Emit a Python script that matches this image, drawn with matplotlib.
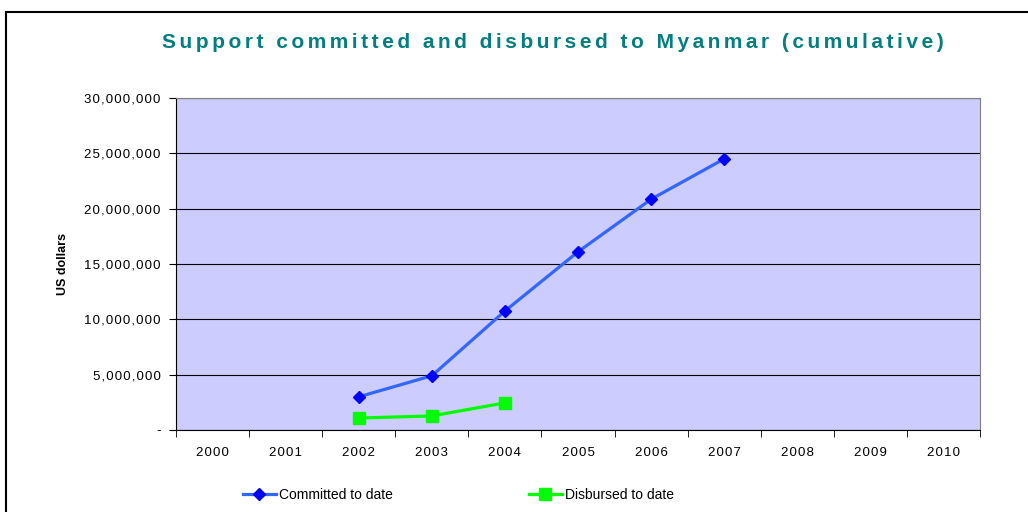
import matplotlib
matplotlib.use("Agg")
import matplotlib.pyplot as plt
from matplotlib.lines import Line2D
from matplotlib.ticker import FuncFormatter

plt.rcParams['font.family'] = ['Liberation Sans', 'DejaVu Sans']

years = ['2000', '2001', '2002', '2003', '2004', '2005', '2006', '2007', '2008', '2009', '2010']
committed_years = [2, 3, 4, 5, 6, 7]
committed = [3.0e6, 4.9e6, 10.75e6, 16.1e6, 20.85e6, 24.5e6]
disbursed_years = [2, 3, 4]
disbursed = [1.08e6, 1.27e6, 2.45e6]


def spaced(s, n=1):
    # mimic the wide letter spacing of the original rendering
    return ('\u200a' * n).join(s)


fig = plt.figure(figsize=(10.28, 5.12), dpi=100)
ax = fig.add_axes([176/1028, 1 - 430/512, 804/1028, 332/512])
ax.set_facecolor('#CCCCFF')

ax.plot(committed_years, committed, color='#3366FF', lw=2.3, marker='D', ms=6.5,
        mfc='#0000FF', mec='#0000FF', label='Committed to date', zorder=3)
ax.plot(disbursed_years, disbursed, color='#00FF00', lw=2.3, marker='s', ms=8,
        mfc='#00FF00', mec='#00FF00', label='Disbursed to date', zorder=3)

ax.set_xlim(-0.5, len(years) - 0.5)
ax.set_ylim(0, 30e6)
ax.set_xticks(range(len(years)))
ax.set_xticklabels([spaced(y) for y in years])
ax.set_xticks([i - 0.5 for i in range(len(years) + 1)], minor=True)
ax.tick_params(axis='x', which='major', length=0, pad=12, labelsize=9.5)
ax.tick_params(axis='x', which='minor', length=5, direction='out', color='black')
ax.set_yticks([0, 5e6, 10e6, 15e6, 20e6, 25e6, 30e6])
ax.yaxis.set_major_formatter(FuncFormatter(lambda v, p: '-' if v == 0 else spaced(f'{int(v):,}')))
ax.tick_params(axis='y', length=5, direction='out', labelsize=9.5, pad=6)
ax.yaxis.grid(True, color='black', lw=0.8)
ax.set_axisbelow(True)
for s in ['top', 'right']:
    ax.spines[s].set_color('#808080')
for s in ['left', 'bottom']:
    ax.spines[s].set_color('black')

ax.set_ylabel('US dollars', fontsize=9, fontweight='bold', labelpad=11)

title = 'Support committed and disbursed to Myanmar (cumulative)'
fig.text(553/1028, 1 - 42/512, spaced(title, 2), ha='center', va='center',
         fontsize=15, fontweight='bold', color='#008080')

ax.legend(loc='center', bbox_to_anchor=(0.351, -0.195), ncol=2, frameon=False,
          fontsize=10, handlelength=2.4, handletextpad=0.2, columnspacing=9.8)

fig.add_artist(Line2D([6/1028, 6/1028], [0, 1 - 12/512], color='black', lw=1.5))
fig.add_artist(Line2D([6/1028, 1], [1 - 12/512, 1 - 12/512], color='black', lw=1.5))

fig.savefig('out.png', dpi=100)
